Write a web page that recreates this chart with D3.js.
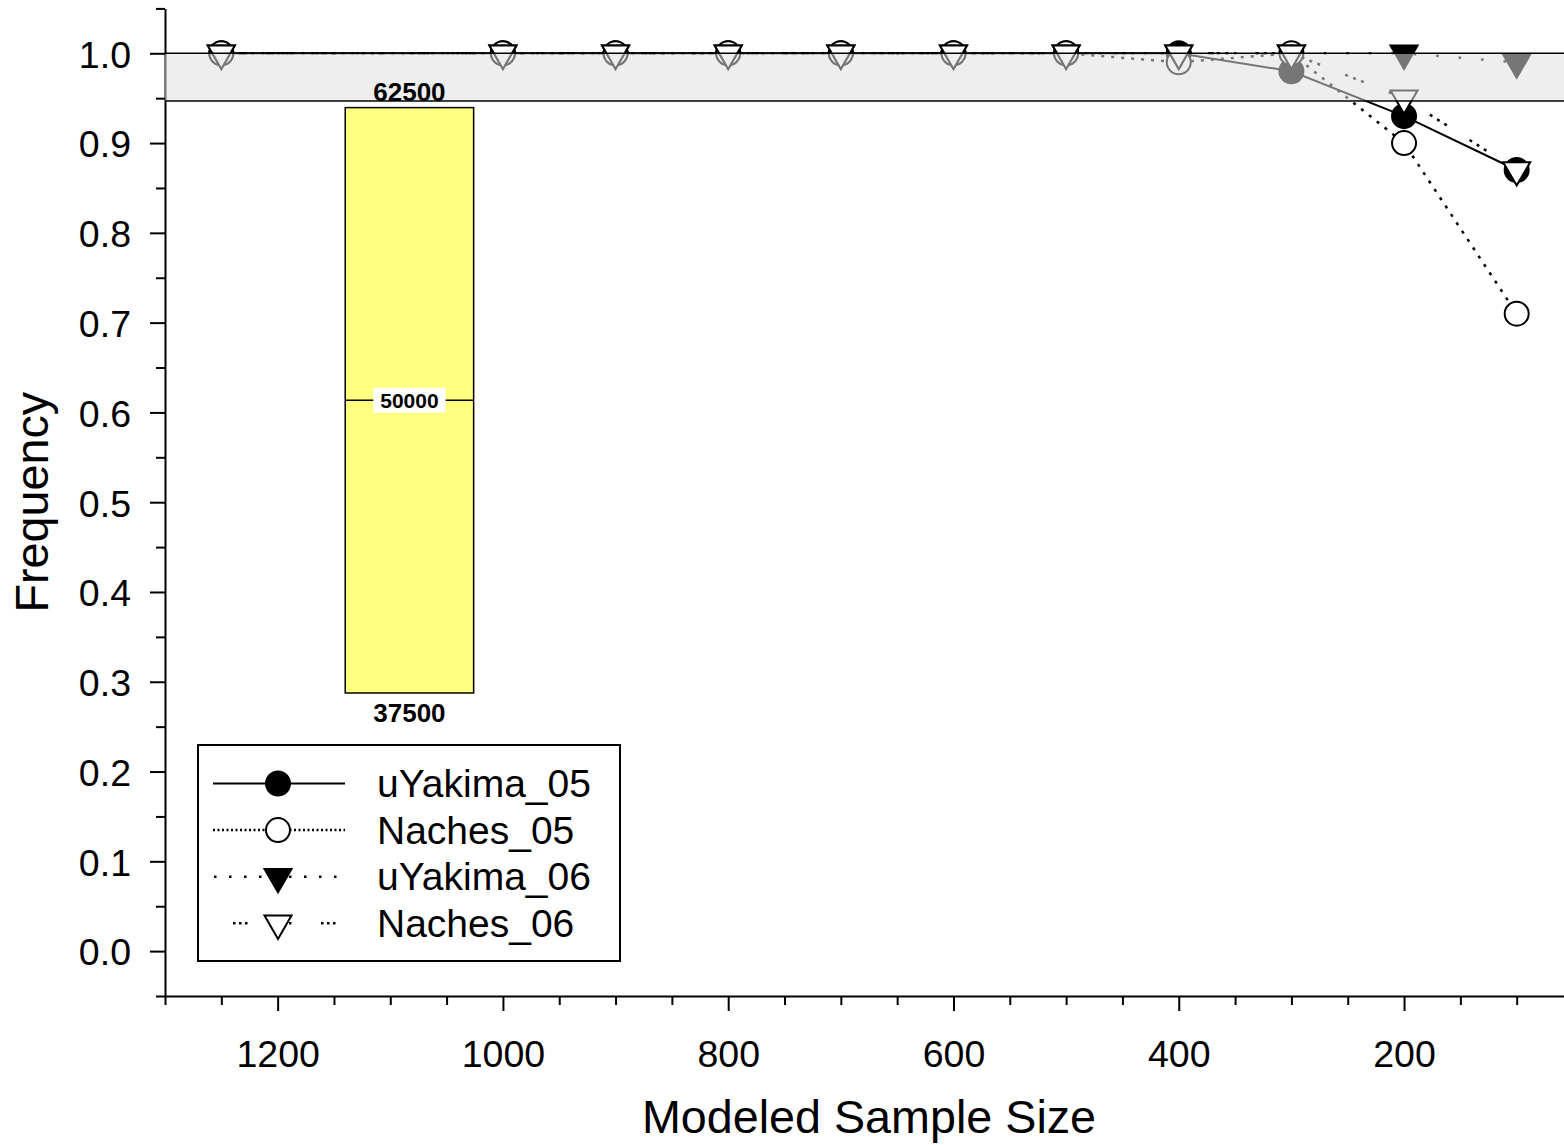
<!DOCTYPE html>
<html>
<head>
<meta charset="utf-8">
<script src="https://cdn.jsdelivr.net/npm/d3@7"></script>
<style>
  body { margin: 0; background: #fff; }
  svg { display: block; font-family: "Liberation Sans", Arial, sans-serif; }
</style>
</head>
<body>
<div id="chart"></div>
<script>
// modeled sample sizes (x) and frequency for each population (y)
const sampleSizes = [1250, 1000, 900, 800, 700, 600, 500, 400, 300, 200, 100];
const uYakima05 = [1, 1, 1, 1, 1, 1, 1, 1, 0.98, 0.93, 0.87];
const naches05 = [1, 1, 1, 1, 1, 1, 1, 0.99, 1, 0.90, 0.71];
const uYakima06 = [1, 1, 1, 1, 1, 1, 1, 1, 1, 1, 0.99];
const naches06 = [1, 1, 1, 1, 1, 1, 1, 1, 1, 0.95, 0.87];
const seriesNames = ["uYakima_05", "Naches_05", "uYakima_06", "Naches_06"];

// axis ticks
const xTickValues = [1200, 1000, 800, 600, 400, 200];
const xMinorValues = [1300, 1250, 1150, 1100, 1050, 950, 900, 850, 750, 700, 650, 550, 500, 450, 350, 300, 250, 150, 100];
const yTickValues = [0, 0.1, 0.2, 0.3, 0.4, 0.5, 0.6, 0.7, 0.8, 0.9, 1.0];
const yMinorValues = [-0.05, 0.05, 0.15, 0.25, 0.35, 0.45, 0.55, 0.65, 0.75, 0.85, 0.95, 1.05];

// shaded band and the yellow box with its labels
const bandLimits = [0.947, 1.0];
const boxSizes = [1140, 1026];
const boxFreqs = [0.2875, 0.6135, 0.9395];
const boxLabels = ["37500", "50000", "62500"];

const width = 1564;
const height = 1145;

const x = d3.scaleLinear().domain([1300, 50]).range([165, 1573]);
const y = d3.scaleLinear().domain([-0.05, 1.05]).range([996, 8.4]);

const svg = d3.select("#chart")
    .append("svg")
    .attr("width", width)
    .attr("height", height)
    .attr("viewBox", [0, 0, width, height]);

// x axis, major + minor ticks
const gx = svg.append("g")
    .attr("transform", `translate(0,${y(-0.05)})`)
    .call(d3.axisBottom(x).tickValues(xTickValues).tickSize(15).tickSizeOuter(0).tickPadding(29).tickFormat(d3.format("d")));
svg.append("g")
    .attr("transform", `translate(0,${y(-0.05)})`)
    .call(d3.axisBottom(x).tickValues(xMinorValues).tickSize(9).tickFormat(""))
    .call(g => g.select(".domain").remove());

// y axis
const gy = svg.append("g")
    .attr("transform", `translate(${x(1300)},0)`)
    .call(d3.axisLeft(y).tickValues(yTickValues).tickSize(15).tickSizeOuter(0).tickPadding(19).tickFormat(d3.format(".1f")));
svg.append("g")
    .attr("transform", `translate(${x(1300)},0)`)
    .call(d3.axisLeft(y).tickValues(yMinorValues).tickSize(9).tickFormat(""))
    .call(g => g.select(".domain").remove());

svg.selectAll(".domain, .tick line")
    .attr("stroke", "#000")
    .attr("stroke-width", 2);
svg.selectAll(".tick text")
    .attr("fill", "#000")
    .style("font-family", "'Liberation Sans', Arial, sans-serif")
    .style("font-size", "37.5px");
gx.selectAll(".tick text").attr("dy", "0.71em");
gy.selectAll(".tick text").attr("dy", "0.37em");

// axis titles
svg.append("text")
    .attr("x", (x(1300) + x(50)) / 2)
    .attr("y", 1133)
    .attr("text-anchor", "middle")
    .style("font-size", "46.7px")
    .text("Modeled Sample Size");
svg.append("text")
    .attr("transform", `translate(48,${(y(-0.05) + y(1.05)) / 2}) rotate(-90)`)
    .attr("text-anchor", "middle")
    .style("font-size", "46.7px")
    .text("Frequency");

// data series
const triangleDown = "rotate(180)";
const series = [uYakima05, naches05, uYakima06, naches06];
const styles = [
    { type: d3.symbolCircle, size: 452, fill: "#000", dash: null, legendDash: null, legendOffset: 0 },
    { type: d3.symbolCircle, size: 452, fill: "#fff", dash: "3,7", legendDash: "2,2.5", legendOffset: 0 },
    { type: d3.symbolTriangle, size: 316, fill: "#000", dash: "2.5,20", legendDash: "2.5,12.5", legendOffset: -16 },
    { type: d3.symbolTriangle, size: 316, fill: "#fff", dash: "3,5.5,3,5.5,3,27", legendDash: "2.5,3.5,2.5,3.5,2.5,29.5", legendOffset: -20 }
];

const line = d3.line()
    .x((d, i) => x(sampleSizes[i]))
    .y(d => y(d));

series.forEach((values, k) => {
    svg.append("path")
        .attr("d", line(values))
        .attr("fill", "none")
        .attr("stroke", "#000")
        .attr("stroke-width", styles[k].dash ? 2.5 : 2)
        .attr("stroke-dasharray", styles[k].dash);
});

series.forEach((values, k) => {
    const st = styles[k];
    svg.append("g")
        .selectAll("path")
        .data(values)
        .join("path")
        .attr("transform", (d, i) => `translate(${x(sampleSizes[i])},${y(d)})` + (st.type === d3.symbolTriangle ? triangleDown : ""))
        .attr("d", d3.symbol().type(st.type).size(st.size))
        .attr("fill", st.fill)
        .attr("stroke", "#000")
        .attr("stroke-width", 2);
});

// translucent band over the data
svg.append("rect")
    .attr("x", x(1300))
    .attr("y", y(bandLimits[1]))
    .attr("width", x(50) - x(1300))
    .attr("height", y(bandLimits[0]) - y(bandLimits[1]))
    .attr("fill", "#dedede")
    .attr("fill-opacity", 0.53);
svg.append("g")
    .selectAll("line")
    .data(bandLimits)
    .join("line")
    .attr("x1", x(1300))
    .attr("x2", x(50))
    .attr("y1", d => y(d))
    .attr("y2", d => y(d))
    .attr("stroke", "#000")
    .attr("stroke-width", 1.5);

// yellow box
svg.append("rect")
    .attr("x", x(boxSizes[0]))
    .attr("y", y(boxFreqs[2]))
    .attr("width", x(boxSizes[1]) - x(boxSizes[0]))
    .attr("height", y(boxFreqs[0]) - y(boxFreqs[2]))
    .attr("fill", "#ffff80")
    .attr("stroke", "#000")
    .attr("stroke-width", 1.5);
svg.append("line")
    .attr("x1", x(boxSizes[0]))
    .attr("x2", x(boxSizes[1]))
    .attr("y1", y(boxFreqs[1]))
    .attr("y2", y(boxFreqs[1]))
    .attr("stroke", "#000")
    .attr("stroke-width", 1.5);

const boxCx = (x(boxSizes[0]) + x(boxSizes[1])) / 2;
svg.append("text")
    .attr("x", boxCx)
    .attr("y", y(boxFreqs[2]) - 7)
    .attr("text-anchor", "middle")
    .style("font-size", "26px")
    .style("font-weight", "bold")
    .text(boxLabels[2]);
svg.append("text")
    .attr("x", boxCx)
    .attr("y", y(boxFreqs[0]) + 29)
    .attr("text-anchor", "middle")
    .style("font-size", "26px")
    .style("font-weight", "bold")
    .text(boxLabels[0]);
const midLabel = svg.append("text")
    .attr("x", boxCx)
    .attr("y", y(boxFreqs[1]) + 7.5)
    .attr("text-anchor", "middle")
    .style("font-size", "21px")
    .style("font-weight", "bold")
    .text(boxLabels[1]);
const bb = midLabel.node().getBBox();
svg.insert("rect", () => midLabel.node())
    .attr("x", bb.x - 7)
    .attr("y", y(boxFreqs[1]) - 12.5)
    .attr("width", bb.width + 14)
    .attr("height", 25)
    .attr("fill", "#fff");

// legend
const legend = svg.append("g");
legend.append("rect")
    .attr("x", 198)
    .attr("y", 745)
    .attr("width", 422)
    .attr("height", 216)
    .attr("fill", "#fff")
    .attr("stroke", "#000")
    .attr("stroke-width", 2);

seriesNames.forEach((name, k) => {
    const st = styles[k];
    const cy = 783.5 + k * 46.6;
    legend.append("line")
        .attr("x1", 213)
        .attr("x2", 345)
        .attr("y1", cy)
        .attr("y2", cy)
        .attr("stroke", "#000")
        .attr("stroke-width", st.legendDash ? 2.5 : 2)
        .attr("stroke-dasharray", st.legendDash)
        .attr("stroke-dashoffset", st.legendOffset);
    legend.append("path")
        .attr("transform", `translate(278,${cy})` + (st.type === d3.symbolTriangle ? triangleDown : ""))
        .attr("d", d3.symbol().type(st.type).size(st.size))
        .attr("fill", st.fill)
        .attr("stroke", "#000")
        .attr("stroke-width", 2);
    legend.append("text")
        .attr("x", 377)
        .attr("y", cy + 13.5)
        .style("font-size", "39px")
        .text(name);
});
</script>
</body>
</html>
